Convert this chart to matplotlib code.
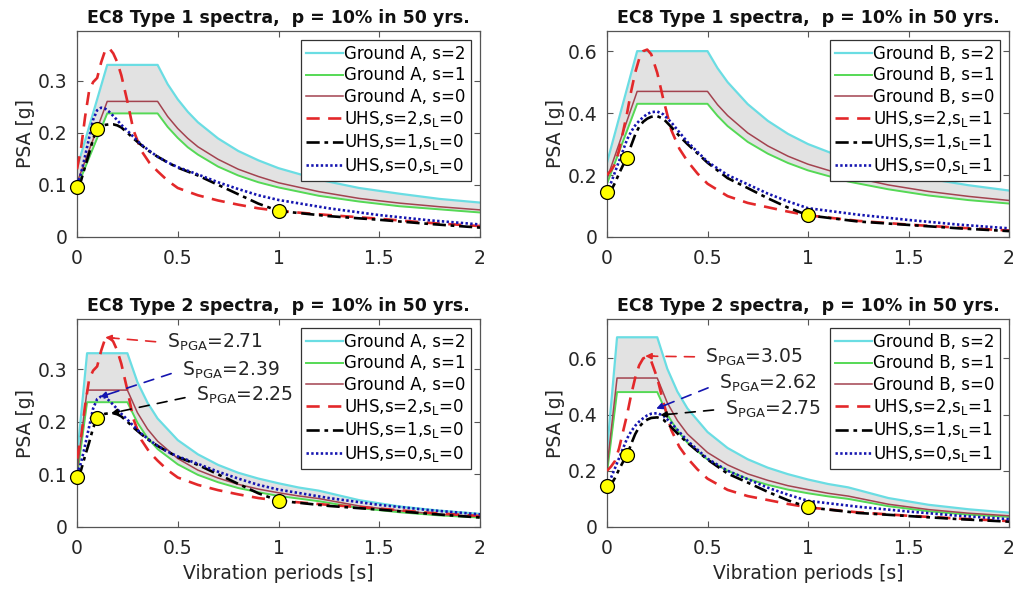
import numpy as np
import matplotlib
matplotlib.use("Agg")
import matplotlib.pyplot as plt

plt.rcParams['font.family'] = ['DejaVu Sans']
plt.rcParams['mathtext.default'] = 'regular'

# ---------------- EC8 design spectra ----------------
# Type 1, Ground A
T_A1 = [0.0, 0.15, 0.40, 0.45, 0.50, 0.55, 0.60, 0.70, 0.80, 0.90, 1.00, 1.20, 1.40, 1.60, 1.80, 2.00]
A1_s2 = [0.132, 0.330, 0.330, 0.293, 0.264, 0.240, 0.220, 0.189, 0.165, 0.147, 0.132, 0.110, 0.094, 0.083, 0.073, 0.066]
A1_s1 = [0.095, 0.237, 0.237, 0.211, 0.190, 0.172, 0.158, 0.135, 0.118, 0.105, 0.095, 0.079, 0.068, 0.059, 0.053, 0.047]
A1_s0 = [0.104, 0.260, 0.260, 0.231, 0.208, 0.189, 0.173, 0.149, 0.130, 0.116, 0.104, 0.087, 0.074, 0.065, 0.058, 0.052]

# Type 1, Ground B
T_B1 = [0.0, 0.15, 0.50, 0.55, 0.60, 0.70, 0.80, 0.90, 1.00, 1.20, 1.40, 1.60, 1.80, 2.00]
B1_s2 = [0.240, 0.600, 0.600, 0.545, 0.500, 0.429, 0.375, 0.333, 0.300, 0.250, 0.214, 0.188, 0.167, 0.150]
B1_s1 = [0.172, 0.430, 0.430, 0.391, 0.358, 0.307, 0.269, 0.239, 0.215, 0.179, 0.154, 0.134, 0.119, 0.108]
B1_s0 = [0.188, 0.470, 0.470, 0.427, 0.392, 0.336, 0.294, 0.261, 0.235, 0.196, 0.168, 0.147, 0.131, 0.118]

# Type 2 (Ground A and B)
T_2 = [0.0, 0.05, 0.25, 0.30, 0.35, 0.40, 0.50, 0.60, 0.70, 0.80, 0.90, 1.00, 1.10, 1.20, 1.40, 1.60, 1.80, 2.00]
A2_s2 = [0.132, 0.330, 0.330, 0.275, 0.236, 0.206, 0.165, 0.138, 0.118, 0.103, 0.092, 0.083, 0.075, 0.069, 0.051, 0.039, 0.031, 0.025]
A2_s1 = [0.095, 0.237, 0.237, 0.198, 0.169, 0.148, 0.119, 0.099, 0.085, 0.074, 0.066, 0.059, 0.054, 0.049, 0.036, 0.028, 0.022, 0.018]
A2_s0 = [0.104, 0.260, 0.260, 0.217, 0.186, 0.163, 0.130, 0.108, 0.093, 0.081, 0.072, 0.065, 0.059, 0.054, 0.040, 0.031, 0.024, 0.020]
B2_s2 = [0.270, 0.675, 0.675, 0.563, 0.482, 0.422, 0.338, 0.281, 0.241, 0.211, 0.188, 0.169, 0.153, 0.141, 0.103, 0.079, 0.063, 0.051]
B2_s1 = [0.192, 0.480, 0.480, 0.400, 0.343, 0.300, 0.240, 0.200, 0.171, 0.150, 0.133, 0.120, 0.109, 0.100, 0.074, 0.056, 0.044, 0.036]
B2_s0 = [0.212, 0.530, 0.530, 0.442, 0.379, 0.331, 0.265, 0.221, 0.189, 0.166, 0.147, 0.133, 0.120, 0.110, 0.081, 0.062, 0.049, 0.040]

# ---------------- UHS ----------------
T_uhs = [0.0, 0.02, 0.04, 0.06, 0.08, 0.10, 0.12, 0.14, 0.16, 0.18, 0.20, 0.22, 0.25, 0.28,
         0.32, 0.36, 0.40, 0.45, 0.50, 0.60, 0.70, 0.80, 0.90, 1.00, 1.25, 1.50, 1.75, 2.00]
uhsA_s2 = [0.130, 0.170, 0.230, 0.280, 0.297, 0.305, 0.335, 0.358, 0.362, 0.352, 0.335, 0.310, 0.260, 0.205,
           0.165, 0.142, 0.126, 0.108, 0.094, 0.080, 0.070, 0.062, 0.055, 0.050, 0.042, 0.035, 0.027, 0.021]
uhsA_s1 = [0.095, 0.108, 0.135, 0.160, 0.188, 0.207, 0.213, 0.215, 0.216, 0.216, 0.214, 0.210, 0.200, 0.189,
           0.176, 0.164, 0.154, 0.143, 0.133, 0.118, 0.100, 0.082, 0.064, 0.050, 0.040, 0.033, 0.025, 0.018]
uhsA_s0 = [0.100, 0.122, 0.155, 0.190, 0.225, 0.243, 0.248, 0.246, 0.240, 0.232, 0.224, 0.215, 0.204, 0.192,
           0.177, 0.165, 0.154, 0.143, 0.134, 0.120, 0.105, 0.092, 0.080, 0.071, 0.055, 0.042, 0.032, 0.024]
uhsB_s2 = [0.200, 0.215, 0.235, 0.280, 0.340, 0.400, 0.470, 0.530, 0.575, 0.600, 0.605, 0.590, 0.530, 0.445,
           0.345, 0.285, 0.245, 0.205, 0.172, 0.132, 0.110, 0.096, 0.082, 0.070, 0.052, 0.040, 0.030, 0.021]
uhsB_s1 = [0.140, 0.150, 0.175, 0.205, 0.232, 0.255, 0.295, 0.330, 0.356, 0.372, 0.382, 0.388, 0.390, 0.382,
           0.355, 0.326, 0.300, 0.270, 0.240, 0.190, 0.158, 0.125, 0.095, 0.070, 0.050, 0.039, 0.028, 0.019]
uhsB_s0 = [0.145, 0.175, 0.210, 0.245, 0.280, 0.315, 0.340, 0.360, 0.375, 0.387, 0.397, 0.403, 0.405, 0.396,
           0.370, 0.338, 0.307, 0.275, 0.243, 0.200, 0.170, 0.140, 0.115, 0.093, 0.072, 0.055, 0.040, 0.028]

# Yellow markers (PGA, T=0.1 s, T=1 s)
mark_T = [0.0, 0.1, 1.0]
mark_A = [0.095, 0.207, 0.050]
mark_B = [0.145, 0.255, 0.070]

# Annotations on Type 2 panels: (label, head T, head PSA, text T, text PSA)
ann_A = [("2.71", 0.14, 0.360, 0.445, 0.350),
         ("2.39", 0.115, 0.247, 0.52, 0.298),
         ("2.25", 0.17, 0.216, 0.59, 0.250)]
ann_B = [("3.05", 0.19, 0.608, 0.49, 0.605),
         ("2.62", 0.245, 0.421, 0.555, 0.510),
         ("2.75", 0.265, 0.398, 0.585, 0.420)]

titles = ["EC8 Type 1 spectra,  p = 10% in 50 yrs.",
          "EC8 Type 1 spectra,  p = 10% in 50 yrs.",
          "EC8 Type 2 spectra,  p = 10% in 50 yrs.",
          "EC8 Type 2 spectra,  p = 10% in 50 yrs."]

C_CYAN = '#6adde3'
C_GREEN = '#55d955'
C_BROWN = '#a3434f'
C_RED = '#e3282a'
C_BLUE = '#1515b0'
AX_COL = '#555555'
TXT_COL = '#262626'

fig = plt.figure(figsize=(10.21, 5.89), dpi=100)
W, H = 1021.0, 589.0
boxes = [(77, 31, 480, 237), (607, 31, 1009, 237), (77, 319, 480, 527), (607, 319, 1009, 527)]

panels = [
    dict(T=T_A1, s2=A1_s2, s1=A1_s1, s0=A1_s0, g='A', sl=0, uhs=(uhsA_s2, uhsA_s1, uhsA_s0), mk=mark_A,
         ylim=0.395, yt=[0, 0.1, 0.2, 0.3], ann=None),
    dict(T=T_B1, s2=B1_s2, s1=B1_s1, s0=B1_s0, g='B', sl=1, uhs=(uhsB_s2, uhsB_s1, uhsB_s0), mk=mark_B,
         ylim=0.665, yt=[0, 0.2, 0.4, 0.6], ann=None),
    dict(T=T_2, s2=A2_s2, s1=A2_s1, s0=A2_s0, g='A', sl=0, uhs=(uhsA_s2, uhsA_s1, uhsA_s0), mk=mark_A,
         ylim=0.395, yt=[0, 0.1, 0.2, 0.3], ann=ann_A),
    dict(T=T_2, s2=B2_s2, s1=B2_s1, s0=B2_s0, g='B', sl=1, uhs=(uhsB_s2, uhsB_s1, uhsB_s0), mk=mark_B,
         ylim=0.74, yt=[0, 0.2, 0.4, 0.6], ann=ann_B),
]

ann_cols = [C_RED, C_BLUE, 'k']

for i, (p, b) in enumerate(zip(panels, boxes)):
    x0, y0, x1, y1 = b
    ax = fig.add_axes([x0 / W, 1 - y1 / H, (x1 - x0) / W, (y1 - y0) / H])
    ax.fill_between(p['T'], p['s1'], p['s2'], color='#e2e2e2', lw=0, zorder=1)
    ax.plot(p['T'], p['s2'], color=C_CYAN, lw=1.6, label=f"Ground {p['g']}, s=2", zorder=2)
    ax.plot(p['T'], p['s1'], color=C_GREEN, lw=1.4, label=f"Ground {p['g']}, s=1", zorder=2)
    ax.plot(p['T'], p['s0'], color=C_BROWN, lw=1.1, label=f"Ground {p['g']}, s=0", zorder=2)
    u2, u1, u0 = p['uhs']
    sl = p['sl']
    ax.plot(T_uhs, u2, color=C_RED, lw=1.9, ls=(0, (5, 3.2)), label=f"UHS,s=2,s$_L$={sl}", zorder=3)
    ax.plot(T_uhs, u1, color='k', lw=1.9, ls=(0, (5, 1.8, 1.4, 1.8)), label=f"UHS,s=1,s$_L$={sl}", zorder=3)
    ax.plot(T_uhs, u0, color=C_BLUE, lw=1.9, ls=(0, (0.9, 0.9)), label=f"UHS,s=0,s$_L$={sl}", zorder=3)
    ax.plot(mark_T, p['mk'], ls='none', marker='o', ms=10, mfc='#ffff00', mec='k', mew=0.9,
            zorder=5, clip_on=False)

    ax.set_xlim(0, 2)
    ax.set_ylim(0, p['ylim'])
    ax.set_xticks([0, 0.5, 1, 1.5, 2])
    ax.set_xticklabels(['0', '0.5', '1', '1.5', '2'])
    ax.set_yticks(p['yt'])
    ax.set_yticklabels(['0' if v == 0 else f"{v:.1f}" for v in p['yt']])
    ax.tick_params(direction='in', top=True, right=True, length=4, width=0.8,
                   colors=AX_COL, labelcolor=TXT_COL, labelsize=13.5)
    ax.tick_params(axis='x', pad=9)
    ax.tick_params(axis='y', pad=7)
    for s in ax.spines.values():
        s.set_color(AX_COL)
        s.set_linewidth(0.9)
    ax.set_ylabel('PSA [g]', fontsize=13.5, color=TXT_COL, labelpad=2)
    if i >= 2:
        ax.set_xlabel('Vibration periods [s]', fontsize=13.5, color=TXT_COL, labelpad=4)
    ax.set_title(titles[i], fontsize=12.5, fontweight='bold', color='#111111', pad=6)

    leg = ax.legend(loc='upper right', fontsize=12, frameon=True, fancybox=False,
                    edgecolor='#333333', handlelength=2.2, handletextpad=0.1,
                    labelspacing=0.2, borderpad=0.3, borderaxespad=0.55, framealpha=1)
    leg.get_frame().set_linewidth(0.9)
    leg.set_zorder(6)

    if p['ann'] is not None:
        for (lab, hx, hy, tx, ty), c in zip(p['ann'], ann_cols):
            ax.annotate('S$_{PGA}$=' + lab, xy=(hx, hy), xytext=(tx, ty), fontsize=13.5,
                        color=TXT_COL, ha='left', va='center', zorder=7,
                        arrowprops=dict(arrowstyle='-', color=c, lw=1.2, ls=(0, (6, 5)),
                                        shrinkA=6, shrinkB=4, relpos=(0, 0.5)))
            # solid arrow head pointing at the curve peak
            d = ax.transData.transform([(tx, ty)])[0] - ax.transData.transform([(hx, hy)])[0]
            d = d / np.hypot(*d) * 9.0
            ax.annotate('', xy=(hx, hy), xytext=(d[0] * 72 / 100, d[1] * 72 / 100),
                        textcoords='offset points', zorder=7,
                        arrowprops=dict(arrowstyle='-|>', color=c, lw=1.2, mutation_scale=9,
                                        shrinkA=0, shrinkB=0))

fig.savefig('out.png', dpi=100)
